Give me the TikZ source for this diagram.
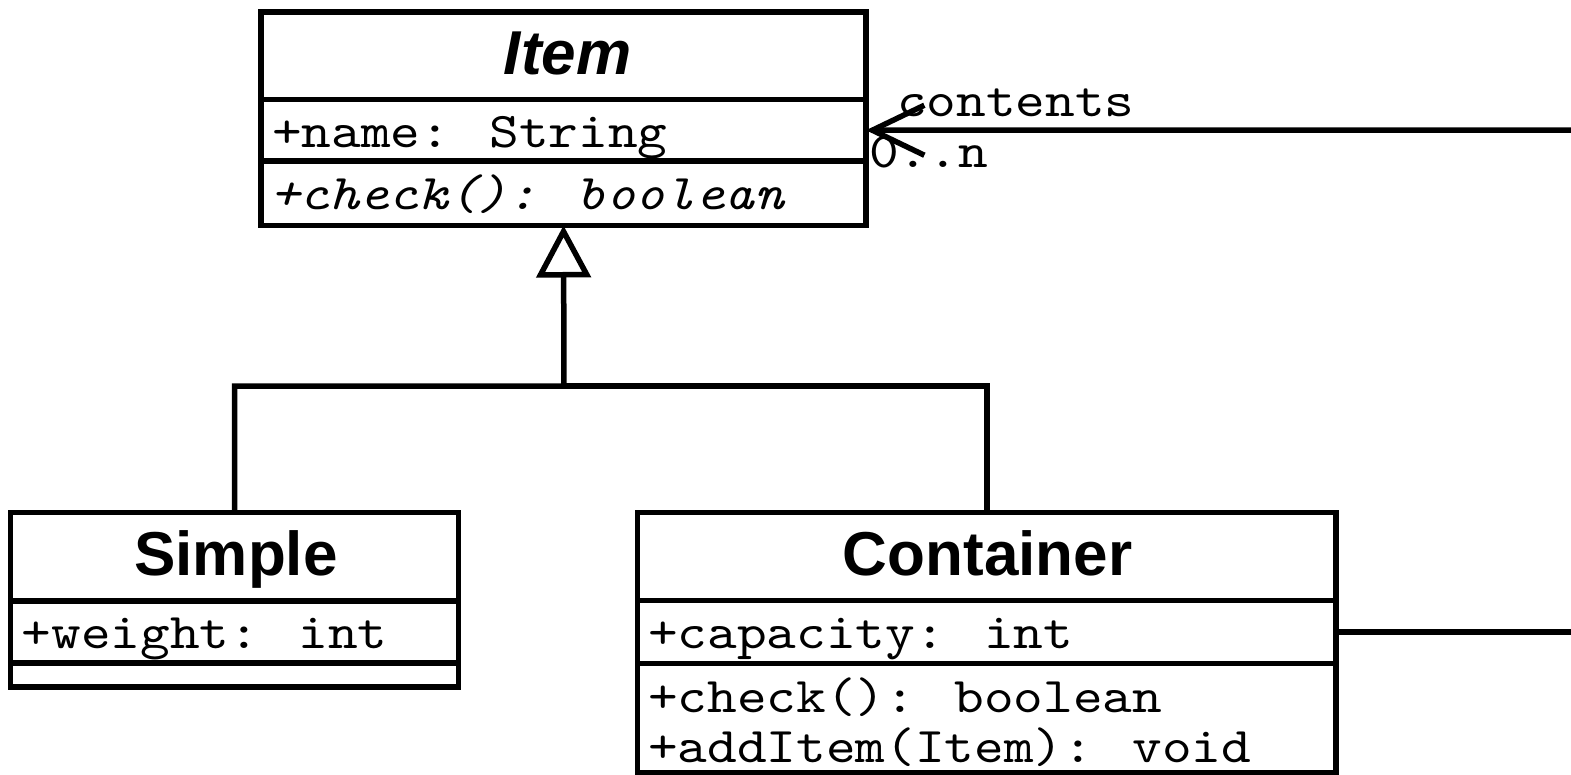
\documentclass[tikz,border=0pt]{standalone}
\usepackage{fontspec}
\setmainfont{Liberation Sans}
% typewriter face for members, widened to a 0.6em pitch
\newfontfamily\umlmono{lmmono10}[Extension=.otf, UprightFont=*-regular, ItalicFont=*-italic, FakeStretch=1.13]
\usetikzlibrary{arrows.meta}
\tikzset{
  comp/.style={draw, line width=5.5pt, inner sep=0pt, outer sep=0pt, anchor=north west},
  cname/.style={font=\fontsize{62}{70}\selectfont\bfseries, anchor=base, inner sep=0pt},
  member/.style={font=\fontsize{50}{60}\umlmono, anchor=base west, inner sep=0pt},
  link/.style={line width=5.5pt},
}
\begin{document}
\begin{tikzpicture}[x=1pt,y=-1pt]
\useasboundingbox (0,0) rectangle (1571,775);

% class Item (abstract)
\node[comp, minimum width=605pt, minimum height=87.5pt] (itemHead) at (261,12) {};
\node[comp, minimum width=605pt, minimum height=61.5pt] (itemAttr) at (itemHead.south west) {};
\node[comp, minimum width=605pt, minimum height=64.5pt] (itemOps) at (itemAttr.south west) {};
\node[cname, font=\fontsize{62}{70}\selectfont\bfseries\itshape] (itemTitle) at (567.5,75) {Item};
\node[member] (itemField) at (272,148) {+name: String};
\node[member, font=\fontsize{50}{60}\umlmono\itshape] (itemMethod) at (270,210) {+check(): boolean};

% class Simple
\node[comp, minimum width=448pt, minimum height=88.5pt] (simpleHead) at (10.5,512.5) {};
\node[comp, minimum width=448pt, minimum height=62pt] (simpleAttr) at (simpleHead.south west) {};
\node[comp, minimum width=448pt, minimum height=24pt] (simpleOps) at (simpleAttr.south west) {};
\node[cname] (simpleTitle) at (236,575) {Simple};
\node[member] (simpleField) at (21.5,648) {+weight: int};

% class Container
\node[comp, minimum width=698.5pt, minimum height=88pt] (contHead) at (637.5,512.5) {};
\node[comp, minimum width=698.5pt, minimum height=63pt] (contAttr) at (contHead.south west) {};
\node[comp, minimum width=698.5pt, minimum height=109pt] (contOps) at (contAttr.south west) {};
\node[cname] (contTitle) at (987.5,575) {Container};
\node[member] (contField) at (648,648) {+capacity: int};
\node[member] (contCheck) at (648,712) {+check(): boolean};
\node[member] (contAdd) at (648,762) {+addItem(Item): void};

% generalization
\coordinate (genJoint) at (564,386);
\draw[link, -{Triangle[open, length=52pt, width=54pt, fill=white]}]
  (simpleHead.north) |- (genJoint) -- (itemOps.south);
\draw[link] (contHead.north) |- (genJoint);

% association Container -> Item (contents, 0..n)
\coordinate (assocIn) at (1600,130);
\coordinate (assocOut) at (1600,632);
\draw[link, -{Straight Barb[length=52pt, width=50pt]}] (assocIn) -- (itemAttr.east);
\draw[link] (contAttr.east) -- (assocOut);
\node[member] (assocRole) at (897,117) {contents};
\node[member] (assocMult) at (869,168) {0..n};
\end{tikzpicture}
\end{document}
